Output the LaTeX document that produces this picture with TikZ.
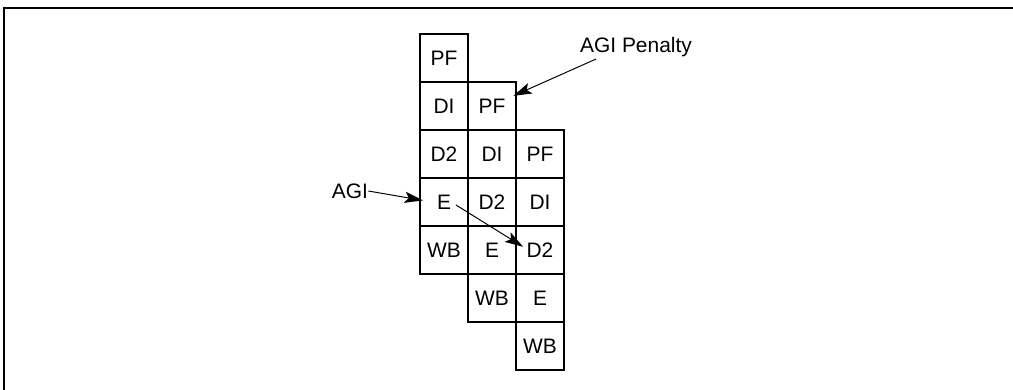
\documentclass[tikz,border=0pt]{standalone}
\usepackage{fontspec}
\setmainfont{Liberation Sans}
\usetikzlibrary{positioning,arrows.meta,calc}

\begin{document}
\begin{tikzpicture}[
  font=\fontsize{14.9}{18}\selectfont,
  >={Stealth[length=4.6mm, width=2.8mm, inset=1mm]},
  cell/.style={draw=black, line width=1.4pt, minimum width=12mm, minimum height=12mm,
               inner sep=0pt, anchor=center},
  flow/.style={->, line width=0.7pt, draw=black},
  lbl/.style={inner sep=0pt},
]
\useasboundingbox (0,0) rectangle (25.325,-9.725);
% ---- Frame (only top and left edges inside the page) ----
\draw[line width=1.4pt] (0.0925,-9.9) -- (0.0925,-0.1925) -- (25.5,-0.1925);

% ---- Column 1 : first instruction ----
\node[cell] (pf1) at (11.1,-1.45) {PF};
\node[cell] (di1) at (11.1,-2.65) {DI};
\node[cell] (dt1) at (11.1,-3.85) {D2};
\node[cell] (ex1) at (11.1,-5.05) {E};
\node[cell] (wb1) at (11.1,-6.25) {WB};
% ---- Column 2 : second instruction ----
\node[cell] (pf2) at (12.3,-2.65) {PF};
\node[cell] (di2) at (12.3,-3.85) {DI};
\node[cell] (dt2) at (12.3,-5.05) {D2};
\node[cell] (ex2) at (12.3,-6.25) {E};
\node[cell] (wb2) at (12.3,-7.45) {WB};
% ---- Column 3 : third instruction ----
\node[cell] (pf3) at (13.5,-3.85) {PF};
\node[cell] (di3) at (13.5,-5.05) {DI};
\node[cell] (dt3) at (13.5,-6.25) {D2};
\node[cell] (ex3) at (13.5,-7.45) {E};
\node[cell] (wb3) at (13.5,-8.65) {WB};

% ---- Labels ----
\node[lbl] (agi) at (8.75,-4.775) {AGI};
\node[lbl] (pen) at (15.9,-1.175) {AGI Penalty};

% ---- Arrows ----
\draw[flow] (agi.east) -- ($(ex1.west)+(0.1,0.04)$);
\draw[flow] ($(ex1.center)+(0.3,-0.075)$) -- ($(dt3.center)+(-0.42,0.08)$);
\draw[flow] ($(pen.south)+(-1.0,-0.05)$) -- ($(pf2.north east)+(-0.09,-0.37)$);
\end{tikzpicture}
\end{document}
